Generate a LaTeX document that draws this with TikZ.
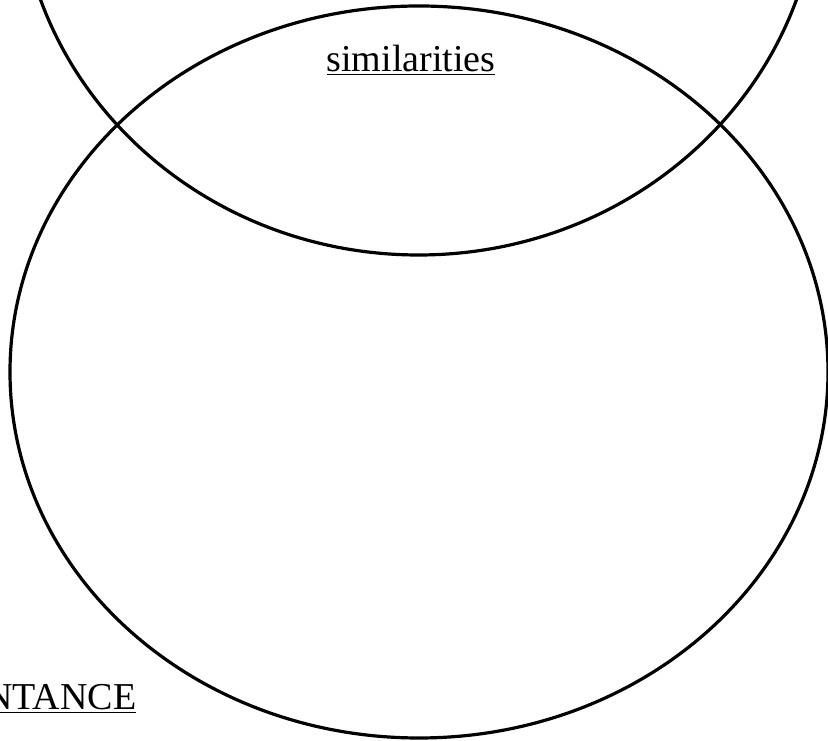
\documentclass[tikz,border=0pt]{standalone}
\usepackage{fontspec}
\setmainfont{Liberation Serif}
\newcommand{\lineweight}{3.2pt}
\newcommand{\labelsize}{\fontsize{38}{44}\selectfont}

\begin{document}
\begin{tikzpicture}[x=1pt, y=1pt, line width=\lineweight]

        % Page frame (cuts the circles at the edges)
        \useasboundingbox (0,0) rectangle (828,741);
        \clip (0,0) rectangle (828,741);

        % --- Upper circle ---
        \draw (418.5,866) ellipse [x radius=400pt, y radius=380pt];

        % --- Lower circle ---
        \draw (419,369) ellipse [x radius=409pt, y radius=366pt];

        % Labels
        \node[anchor=base, inner sep=0pt] (sim) at (411,669) {\labelsize\underline{similarities}};
        \node[anchor=base east, inner sep=0pt] (acq) at (138,31) {\labelsize\underline{NTANCE}};

    \end{tikzpicture}
\end{document}
